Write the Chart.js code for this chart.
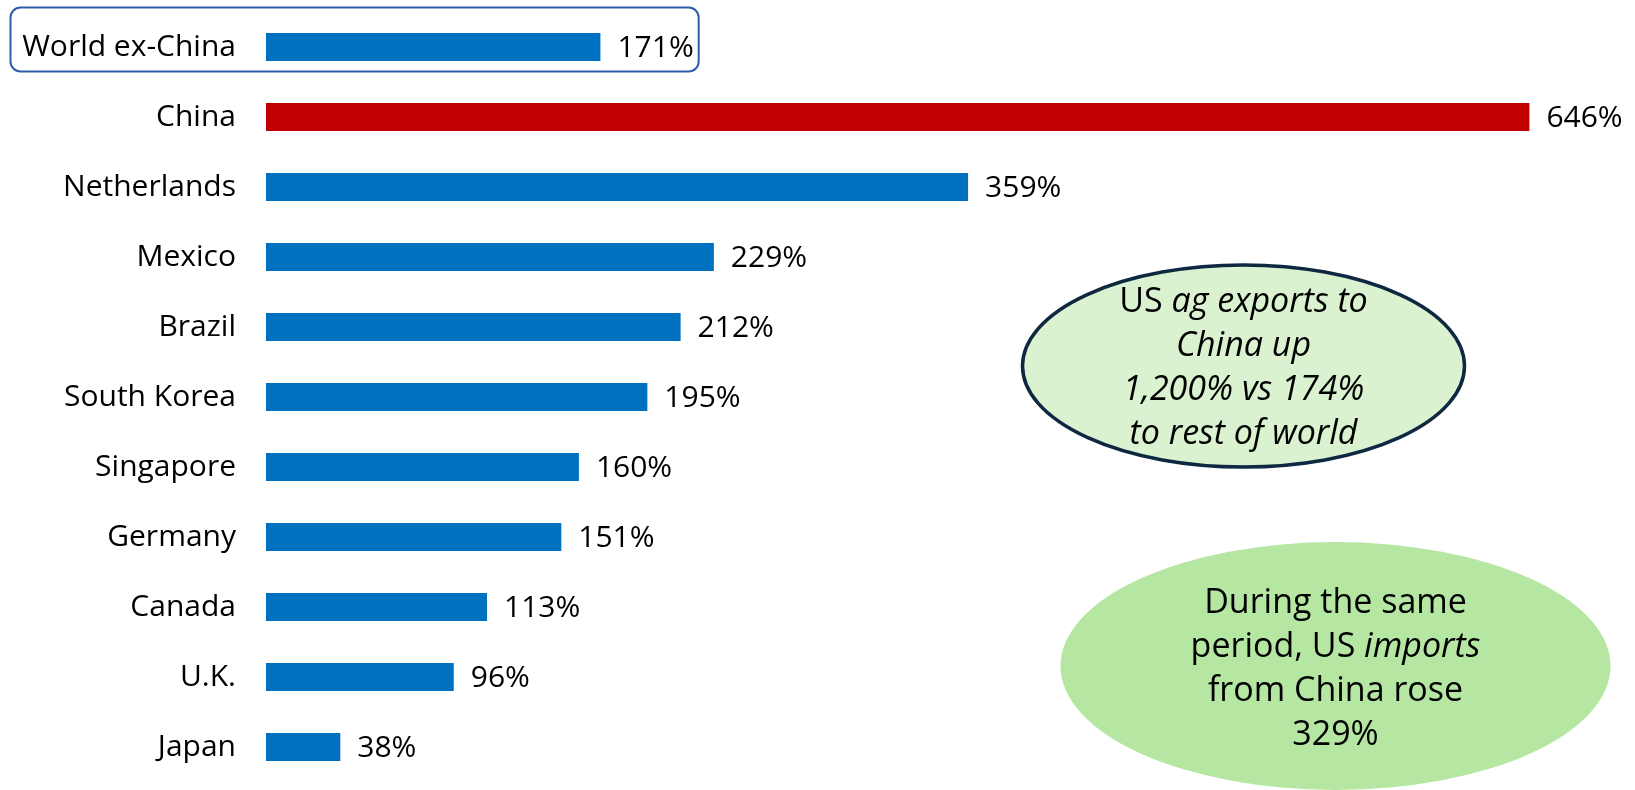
<!DOCTYPE html>
<html>
<head>
<meta charset="utf-8">
<script src="https://cdn.jsdelivr.net/npm/chart.js@4/dist/chart.umd.min.js"></script>
<style>
  html, body { margin: 0; padding: 0; background: #ffffff; }
</style>
</head>
<body>
<canvas id="chart" width="1635" height="790"></canvas>
<script>
// Growth in US agricultural exports by destination
const categories = ['World ex-China', 'China', 'Netherlands', 'Mexico', 'Brazil', 'South Korea',
                    'Singapore', 'Germany', 'Canada', 'U.K.', 'Japan'];
const growthPct = [171, 646, 359, 229, 212, 195, 160, 151, 113, 96, 38];
const highlight = 'China';

const BLUE = '#0070C0';
const RED = '#C00000';
const FONT = '"Open Sans", "Liberation Sans", sans-serif';

// Call-out bubbles: each line is a list of [text, italic] runs
const calloutExports = [
  [['US ', false], ['ag exports to', true]],
  [['China up', true]],
  [['1,200% vs 174%', true]],
  [['to rest of world', true]]
];
const calloutImports = [
  [['During the same', false]],
  [['period, US ', false], ['imports', true]],
  [['from China rose', false]],
  [['329%', false]]
];

function drawRuns(ctx, runs, cx, baseline, size) {
  let total = 0;
  const widths = runs.map(([t, it]) => {
    ctx.font = (it ? 'italic ' : '') + size + 'px ' + FONT;
    const w = ctx.measureText(t).width;
    total += w;
    return w;
  });
  let x = cx - total / 2;
  runs.forEach(([t, it], i) => {
    ctx.font = (it ? 'italic ' : '') + size + 'px ' + FONT;
    ctx.fillText(t, x, baseline);
    x += widths[i];
  });
}

const annotations = {
  id: 'annotations',
  afterDatasetsDraw(chart) {
    const ctx = chart.ctx;
    const meta = chart.getDatasetMeta(0);
    const yScale = chart.scales.y;
    ctx.save();

    // value labels at the end of each bar
    ctx.font = '30px ' + FONT;
    ctx.fillStyle = '#000';
    ctx.textAlign = 'left';
    ctx.textBaseline = 'middle';
    let firstLabelEnd = 0;
    meta.data.forEach((bar, i) => {
      const txt = growthPct[i] + '%';
      ctx.fillText(txt, bar.x + 17, bar.y + 1);
      if (i === 0) firstLabelEnd = bar.x + 17 + ctx.measureText(txt).width;
    });

    // outline around the first row
    const y0 = yScale.getPixelForValue(0);
    ctx.strokeStyle = '#2F5CA8';
    ctx.lineWidth = 2;
    ctx.beginPath();
    ctx.roundRect(10.5, y0 - 39.5, firstLabelEnd + 5 - 10.5, 64, 10);
    ctx.stroke();

    // exports bubble
    ctx.beginPath();
    ctx.ellipse(1243.5, 366, 221, 101, 0, 0, Math.PI * 2);
    ctx.fillStyle = '#DAF2D0';
    ctx.fill();
    ctx.lineWidth = 3.5;
    ctx.strokeStyle = '#0E2841';
    ctx.stroke();

    ctx.fillStyle = '#000';
    ctx.textAlign = 'left';
    ctx.textBaseline = 'alphabetic';
    calloutExports.forEach((runs, i) => drawRuns(ctx, runs, 1243.5, 312 + i * 44, 34));

    // imports bubble
    ctx.beginPath();
    ctx.ellipse(1335.5, 666, 275, 124, 0, 0, Math.PI * 2);
    ctx.fillStyle = '#B5E6A2';
    ctx.fill();
    ctx.fillStyle = '#000';
    calloutImports.forEach((runs, i) => drawRuns(ctx, runs, 1335.5, 613 + i * 44, 34));

    ctx.restore();
  }
};

new Chart(document.getElementById('chart'), {
  type: 'bar',
  data: {
    labels: categories,
    datasets: [{
      data: growthPct,
      backgroundColor: categories.map(c => c === highlight ? RED : BLUE),
      borderWidth: 0,
      barPercentage: 0.4,
      categoryPercentage: 1.0
    }]
  },
  options: {
    indexAxis: 'y',
    responsive: false,
    maintainAspectRatio: false,
    animation: false,
    devicePixelRatio: 1,
    layout: { padding: { top: 12, bottom: 8, left: 0, right: 0 } },
    plugins: {
      legend: { display: false },
      tooltip: { enabled: false },
      title: { display: false }
    },
    scales: {
      x: { display: false, min: 0, max: 700 },
      y: {
        grid: { display: false, drawTicks: false },
        border: { display: false },
        ticks: {
          color: '#000',
          font: { family: FONT, size: 30 },
          padding: 30
        },
        afterFit(scale) {
          scale.width = 266;
          scale.paddingTop = 0;
          scale.paddingBottom = 0;
        }
      }
    }
  },
  plugins: [annotations]
});
</script>
</body>
</html>
